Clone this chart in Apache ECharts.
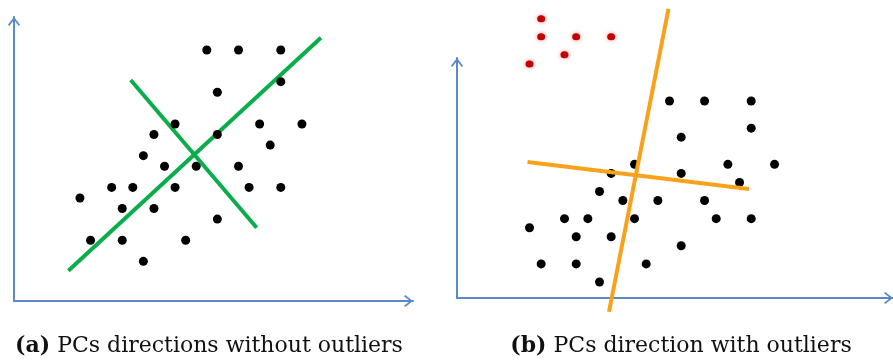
<!DOCTYPE html>
<html><head><meta charset="utf-8">
<script src="https://cdn.jsdelivr.net/npm/echarts@6/dist/echarts.min.js"></script>
<style>html,body{margin:0;padding:0;background:#fff}#c{width:893px;height:362px}</style>
</head><body><div id="c"></div>
<script>
// Shared point cloud (grid units), same in both panels
const pointX = [18,21,25,25,19,15,23,27,13,19,24,12,14,17,21,9,11,15,22,25,6,10,13,19,7,10,16,12];
const pointY = [24,24,24,21,20,17,17,17,16,16,15,14,13,13,13,11,11,11,11,11,10,9,9,8,6,6,6,4];
// Outliers (panel b only)
const outlierX = [7,7,10,13,9,6];
const outlierY = [33.1,31.1,31.1,31.1,29.1,28.1];
// Principal component directions (endpoints)
const pcA1 = [[4.9,3.12],[28.8,25.16]];
const pcA2 = [[10.8,21.16],[22.72,7.18]];
const pcB1 = [[17.91,34.17],[12.81,0.70]];
const pcB2 = [[5.83,17.26],[24.81,14.28]];
const captionTags = ['(a)','(b)'];
const captionTexts = ['PCs directions without outliers','PCs direction with outliers'];

const zip = (xs, ys) => xs.map((x, i) => [x, ys[i]]);
const chart = echarts.init(document.getElementById('c'), null, {renderer:'canvas'});
const axisBlue = '#5b88c6';
const chevron = 'path://M7,0 L14,9 L12.4,10.4 L7,3.2 L1.6,10.4 L0,9 Z';
function axis(min, max) {
  return {
    type:'value', min, max,
    axisLine:{show:true, onZero:false, symbol:['none', chevron], symbolSize:[13,9], symbolOffset:[0,-4.5],
      lineStyle:{color:axisBlue, width:2}},
    axisTick:{show:false}, axisLabel:{show:false}, splitLine:{show:false}
  };
}
const font = '22px "DejaVu Serif"';
chart.setOption({
  animation:false,
  backgroundColor:'#fff',
  grid:[
    {left:14, top:17, width:399, height:284},
    {left:457, top:58, width:439, height:240}
  ],
  xAxis:[Object.assign(axis(-0.241, 37.51), {gridIndex:0}), Object.assign(axis(-0.213, 37.15), {gridIndex:1})],
  yAxis:[Object.assign(axis(0.25, 27.12), {gridIndex:0}), Object.assign(axis(2.232, 28.75), {gridIndex:1})],
  series:[
    {type:'line', xAxisIndex:0, yAxisIndex:0, data:pcA1, symbol:'none', clip:false, lineStyle:{color:'#0aad4c', width:4, cap:'butt'}},
    {type:'line', xAxisIndex:0, yAxisIndex:0, data:pcA2, symbol:'none', clip:false, lineStyle:{color:'#0aad4c', width:4, cap:'butt'}},
    {type:'scatter', xAxisIndex:0, yAxisIndex:0, data:zip(pointX, pointY), symbolSize:9, itemStyle:{color:'#000', opacity:1}, z:3},
    {type:'scatter', xAxisIndex:1, yAxisIndex:1, data:zip(pointX, pointY), symbolSize:9, itemStyle:{color:'#000', opacity:1}, z:1},
    {type:'scatter', xAxisIndex:1, yAxisIndex:1, data:zip(outlierX, outlierY), symbolSize:[8,7], clip:false,
      itemStyle:{color:'#c40000', opacity:1, shadowBlur:4, shadowColor:'rgba(220,60,60,0.6)'}},
    {type:'line', xAxisIndex:1, yAxisIndex:1, data:pcB1, symbol:'none', clip:false, z:3, lineStyle:{color:'#f8a21c', width:4, cap:'butt'}},
    {type:'line', xAxisIndex:1, yAxisIndex:1, data:pcB2, symbol:'none', clip:false, z:3, lineStyle:{color:'#f8a21c', width:4, cap:'butt'}}
  ],
  graphic:[0,1].map(i => ({
    type:'text', x: i === 0 ? 209 : 681, y: 346,
    style:{
      text:'{b|' + captionTags[i] + '} ' + captionTexts[i],
      font: font, fill:'#111', align:'center', verticalAlign:'middle',
      rich:{b:{font:'bold 22px "DejaVu Serif"', fill:'#111'}}
    }
  }))
});
</script></body></html>
